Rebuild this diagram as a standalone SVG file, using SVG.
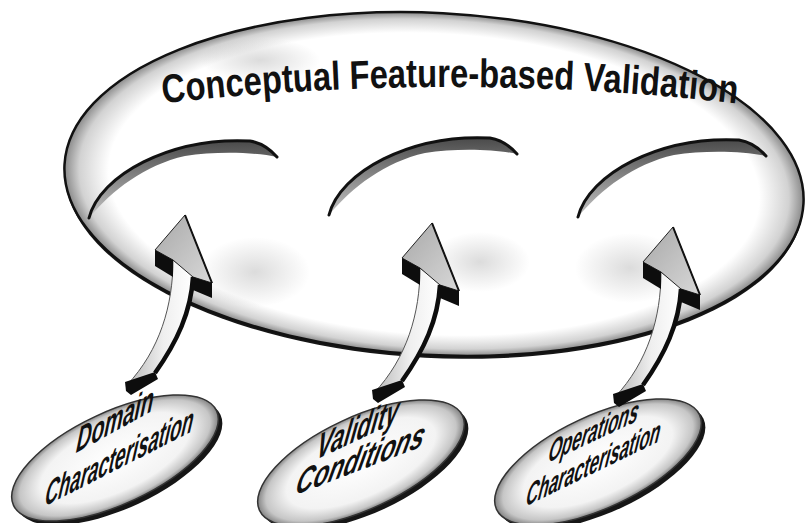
<svg xmlns="http://www.w3.org/2000/svg" width="807" height="523" viewBox="0 0 807 523">
  <defs>
    <style>
      .title { font-family: "Liberation Sans", Arial, Helvetica, sans-serif; font-weight: bold; font-size: 40px; fill: #111; }
      .label { font-family: "Liberation Sans", Arial, Helvetica, sans-serif; font-weight: bold; font-style: italic; fill: #111; text-anchor: middle; }
      .rim { fill: #161616; }
      .block { fill: #0d0d0d; }
      .lip-edge { fill: none; stroke: #111; stroke-width: 3; stroke-linecap: round; }
    </style>

    <!-- shading of the large plate: white centre, grey towards the rim -->
    <radialGradient id="bigFill" cx="0.5" cy="0.5" r="0.5">
      <stop offset="0" stop-color="#ffffff"/>
      <stop offset="0.88" stop-color="#ffffff"/>
      <stop offset="0.96" stop-color="#d2d2d2"/>
      <stop offset="1" stop-color="#8a8a8a"/>
    </radialGradient>

    <!-- shading of the small discs -->
    <radialGradient id="discFill" cx="0.5" cy="0.5" r="0.5">
      <stop offset="0" stop-color="#ffffff"/>
      <stop offset="0.72" stop-color="#f3f3f3"/>
      <stop offset="0.92" stop-color="#c6c6c6"/>
      <stop offset="1" stop-color="#848484"/>
    </radialGradient>

    <!-- soft grey patches on the plate -->
    <radialGradient id="haze" cx="0.5" cy="0.5" r="0.5">
      <stop offset="0" stop-color="#9a9a9a" stop-opacity="0.35"/>
      <stop offset="1" stop-color="#9a9a9a" stop-opacity="0"/>
    </radialGradient>

    <linearGradient id="lipFill" x1="0" y1="0" x2="0" y2="1">
      <stop offset="0" stop-color="#4a4a4a"/>
      <stop offset="1" stop-color="#c4c4c4"/>
    </linearGradient>

    <linearGradient id="shaftFill" x1="0" y1="0" x2="1" y2="0">
      <stop offset="0" stop-color="#b8b8b8"/>
      <stop offset="0.55" stop-color="#efefef"/>
      <stop offset="1" stop-color="#ffffff"/>
    </linearGradient>

    <linearGradient id="headFill" x1="0" y1="0" x2="1" y2="1">
      <stop offset="0" stop-color="#a8a8a8"/>
      <stop offset="1" stop-color="#d8d8d8"/>
    </linearGradient>

    <!-- funnel lip drawn inside the plate -->
    <g id="lip">
      <path d="M 89,218 C 100,175 170,137 250,141 C 262,143 270,149 277,157 C 255,152 215,151 185,156 C 145,165 112,190 89,218 Z" fill="url(#lipFill)"/>
      <path d="M 89,218 C 100,175 170,137 250,141 C 262,143 270,149 277,157" class="lip-edge"/>
    </g>

    <!-- extruded curved arrow, tip at the origin -->
    <g id="arrow">
      <path d="M -12,45 C -12,90 -25,135 -58,170 L -30,158 C -8,125 6,95 8,60 Z" fill="url(#shaftFill)" stroke="#555" stroke-width="1"/>
      <path d="M 8,62 C 6,97 -8,127 -30,158" fill="none" stroke="#0d0d0d" stroke-width="4.5"/>
      <path d="M -60,167 L -59,176 L -54,180 L -27,164 L -30,157 Z" class="block"/>
      <path d="M 0,0 L -30,35 L -12,45 L 8,62 L 27,68 Z" fill="url(#headFill)" stroke="#222" stroke-width="1"/>
      <path d="M 0,0 L 27,68" fill="none" stroke="#111" stroke-width="2"/>
      <path d="M -30,35 L -12,45 L -12,62 L -30,51 Z" class="block"/>
      <path d="M 8,62 L 27,68 L 27,83 L 8,75 Z" class="block"/>
    </g>

    <path id="titleArc" d="M 158,104 Q 450,70 742,104" fill="none"/>
  </defs>

  <rect width="807" height="523" fill="#ffffff"/>

  <!-- main plate -->
  <g id="conceptual-validation">
    <ellipse cx="434" cy="187" rx="370" ry="171" transform="rotate(3 434 187)" class="rim"/>
    <ellipse cx="434" cy="184" rx="370" ry="171" transform="rotate(3 434 184)" fill="url(#bigFill)" stroke="#111" stroke-width="2.5"/>
    <ellipse cx="255" cy="272" rx="55" ry="35" fill="url(#haze)"/>
    <ellipse cx="480" cy="262" rx="50" ry="30" fill="url(#haze)"/>
    <ellipse cx="630" cy="268" rx="55" ry="35" fill="url(#haze)"/>
    <ellipse cx="260" cy="60" rx="60" ry="22" fill="url(#haze)"/>
    <use href="#lip"/>
    <use href="#lip" transform="translate(240,-3)"/>
    <use href="#lip" transform="translate(489,-1)"/>
    <text class="title"><textPath href="#titleArc" startOffset="50%" text-anchor="middle" textLength="575" lengthAdjust="spacingAndGlyphs">Conceptual Feature-based Validation</textPath></text>
  </g>

  <!-- source discs -->
  <g id="domain-characterisation">
    <ellipse cx="119" cy="462" rx="112" ry="46" transform="rotate(-25 119 462)" class="rim"/>
    <ellipse cx="115" cy="458" rx="112" ry="46" transform="rotate(-25 115 458)" fill="url(#discFill)" stroke="#333" stroke-width="1.5"/>
    <text class="label" font-size="30" transform="translate(114,432) rotate(-29) skewX(-35)" textLength="88" lengthAdjust="spacingAndGlyphs">Domain</text>
    <text class="label" font-size="30" transform="translate(118,469) rotate(-27) skewX(-35)" textLength="166" lengthAdjust="spacingAndGlyphs">Characterisation</text>
  </g>

  <g id="validity-conditions">
    <ellipse cx="365" cy="467" rx="112" ry="46" transform="rotate(-25 365 467)" class="rim"/>
    <ellipse cx="361" cy="463" rx="112" ry="46" transform="rotate(-25 361 463)" fill="url(#discFill)" stroke="#333" stroke-width="1.5"/>
    <text class="label" font-size="31" transform="translate(356,441) rotate(-25) skewX(-35)" textLength="90" lengthAdjust="spacingAndGlyphs">Validity</text>
    <text class="label" font-size="31" transform="translate(358,471) rotate(-21) skewX(-35)" textLength="137" lengthAdjust="spacingAndGlyphs">Conditions</text>
  </g>

  <g id="operations-characterisation">
    <ellipse cx="602" cy="466" rx="112" ry="46" transform="rotate(-25 602 466)" class="rim"/>
    <ellipse cx="598" cy="462" rx="112" ry="46" transform="rotate(-25 598 462)" fill="url(#discFill)" stroke="#333" stroke-width="1.5"/>
    <text class="label" font-size="27" transform="translate(592,442) rotate(-25) skewX(-35)" textLength="99" lengthAdjust="spacingAndGlyphs">Operations</text>
    <text class="label" font-size="27" transform="translate(592,474) rotate(-26) skewX(-35)" textLength="149" lengthAdjust="spacingAndGlyphs">Characterisation</text>
  </g>

  <!-- arrows from each disc into the plate -->
  <g id="connectors">
    <use href="#arrow" transform="translate(185,215)"/>
    <use href="#arrow" transform="translate(432,223)"/>
    <use href="#arrow" transform="translate(673,227)"/>
  </g>
</svg>
